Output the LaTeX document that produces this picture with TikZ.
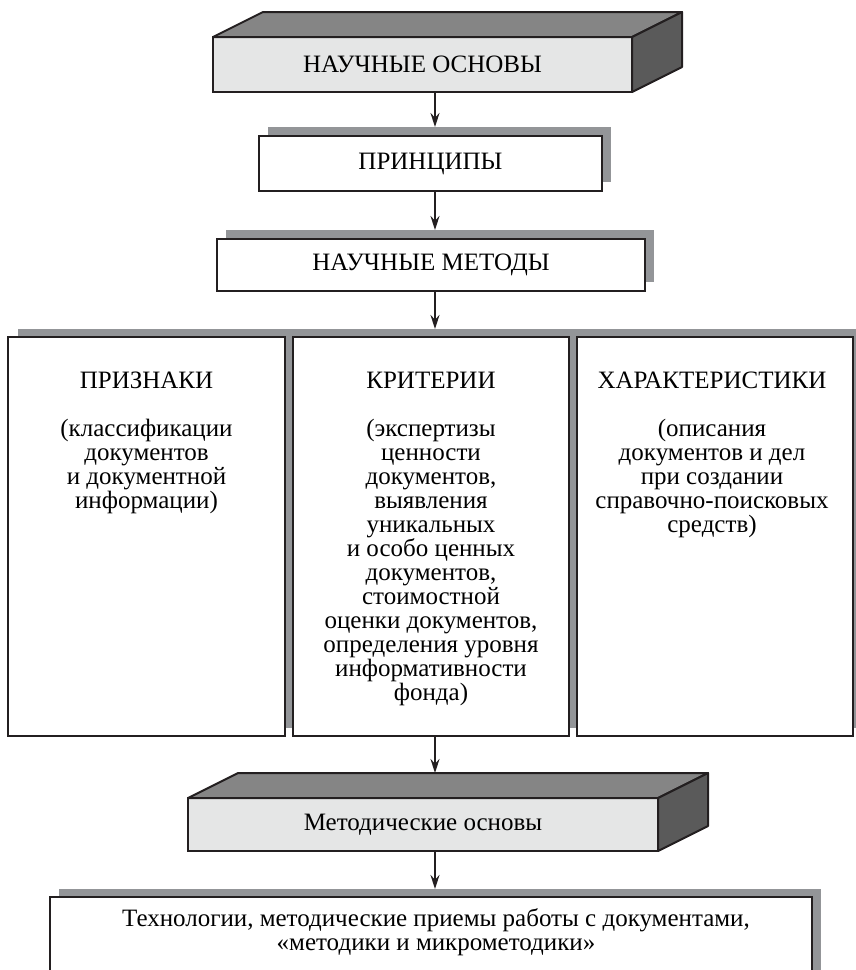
\documentclass[tikz,border=0pt]{standalone}
\usepackage{fontspec}
\setmainfont{Liberation Serif}
\usetikzlibrary{arrows.meta,calc}
\definecolor{ink}{HTML}{231F20}
\definecolor{facefront}{HTML}{E5E6E6}
\definecolor{facetop}{HTML}{858585}
\definecolor{faceside}{HTML}{5A5A5A}
\definecolor{shade}{HTML}{939598}

\begin{document}
\begin{tikzpicture}[x=1pt,y=-1pt,
  every node/.style={font=\fontsize{25}{24}\selectfont, inner sep=0pt, outer sep=0pt},
  slab/.style={draw=ink, line width=2pt, fill=facefront},
  plainbox/.style={draw=ink, line width=2pt, fill=white},
  shadowbox/.style={fill=shade},
  face/.style={draw=ink, line width=2pt, line join=round},
  arr/.style={draw=ink, line width=1.5pt, -{Stealth[length=14pt,width=9pt]}},
  cell/.style={align=center}
]
\useasboundingbox (0,0) rectangle (856,970);
\coordinate (axis) at (435,0);

% --- top slab
\node[slab, minimum width=419pt, minimum height=55pt] (nauch) at (422.5,64.5) {НАУЧНЫЕ ОСНОВЫ};
\filldraw[face, fill=facetop] (nauch.north west) -- ++(50,-25) -- ($(nauch.north east)+(50,-25)$) -- (nauch.north east) -- cycle;
\filldraw[face, fill=faceside] (nauch.north east) -- ++(50,-25) -- ++(0,55) -- (nauch.south east) -- cycle;

% --- principles
\node[shadowbox, minimum width=343pt, minimum height=55pt] (princ-sh) at (439.5,154.5) {};
\node[plainbox, minimum width=343pt, minimum height=55pt] (princ) at (430.5,163.5) {ПРИНЦИПЫ};

% --- scientific methods
\node[shadowbox, minimum width=428pt, minimum height=52pt] (metody-sh) at (440,256) {};
\node[plainbox, minimum width=428pt, minimum height=52pt] (metody) at (431,265) {НАУЧНЫЕ МЕТОДЫ};

% --- three columns on one common shadow
\node[shadowbox, minimum width=845pt, minimum height=399pt] (cols-sh) at (440.5,528.5) {};
\node[plainbox, minimum width=277pt, minimum height=399pt] (priz) at (146.5,536.5) {};
\node[plainbox, minimum width=276pt, minimum height=399pt] (crit) at (431,536.5) {};
\node[plainbox, minimum width=276pt, minimum height=399pt] (har) at (715,536.5) {};

\node (priz-h) at (146.5,380) {ПРИЗНАКИ};
\node (crit-h) at (431,380) {КРИТЕРИИ};
\node (har-h) at (712,380) {ХАРАКТЕРИСТИКИ};

\node[cell, anchor=north] (priz-t) at (146.5,419) {(классификации\\документов\\и документной\\информации)};
\node[cell, anchor=north] (crit-t) at (431,419) {(экспертизы\\ценности\\документов,\\выявления\\уникальных\\и особо ценных\\документов,\\стоимостной\\оценки документов,\\определения уровня\\информативности\\фонда)};
\node[cell, anchor=north] (har-t) at (712,419) {(описания\\документов и дел\\при создании\\справочно-поисковых\\средств)};

% --- methodical slab
\node[slab, minimum width=470pt, minimum height=53pt] (metod) at (423,824.5) {Методические основы};
\filldraw[face, fill=facetop] (metod.north west) -- ++(50,-25) -- ($(metod.north east)+(50,-25)$) -- (metod.north east) -- cycle;
\filldraw[face, fill=faceside] (metod.north east) -- ++(50,-25) -- ++(0,53) -- (metod.south east) -- cycle;

% --- technologies
\node[shadowbox, minimum width=762pt, minimum height=98pt] (tech-sh) at (440,938) {};
\node[plainbox, minimum width=762pt, minimum height=98pt] (tech) at (431,946) {};
\node[cell] (tech-t) at (436,932) {Технологии, методические приемы работы с документами,\\«методики и микрометодики»};

% --- connectors
\draw[arr] (nauch.south -| axis) -- (princ-sh.north -| axis);
\draw[arr] (princ.south -| axis) -- (metody-sh.north -| axis);
\draw[arr] (metody.south -| axis) -- (cols-sh.north -| axis);
\draw[arr] (crit.south -| axis) -- ($(metod.north -| axis)+(0,-25)$);
\draw[arr] (metod.south -| axis) -- (tech-sh.north -| axis);
\end{tikzpicture}
\end{document}
